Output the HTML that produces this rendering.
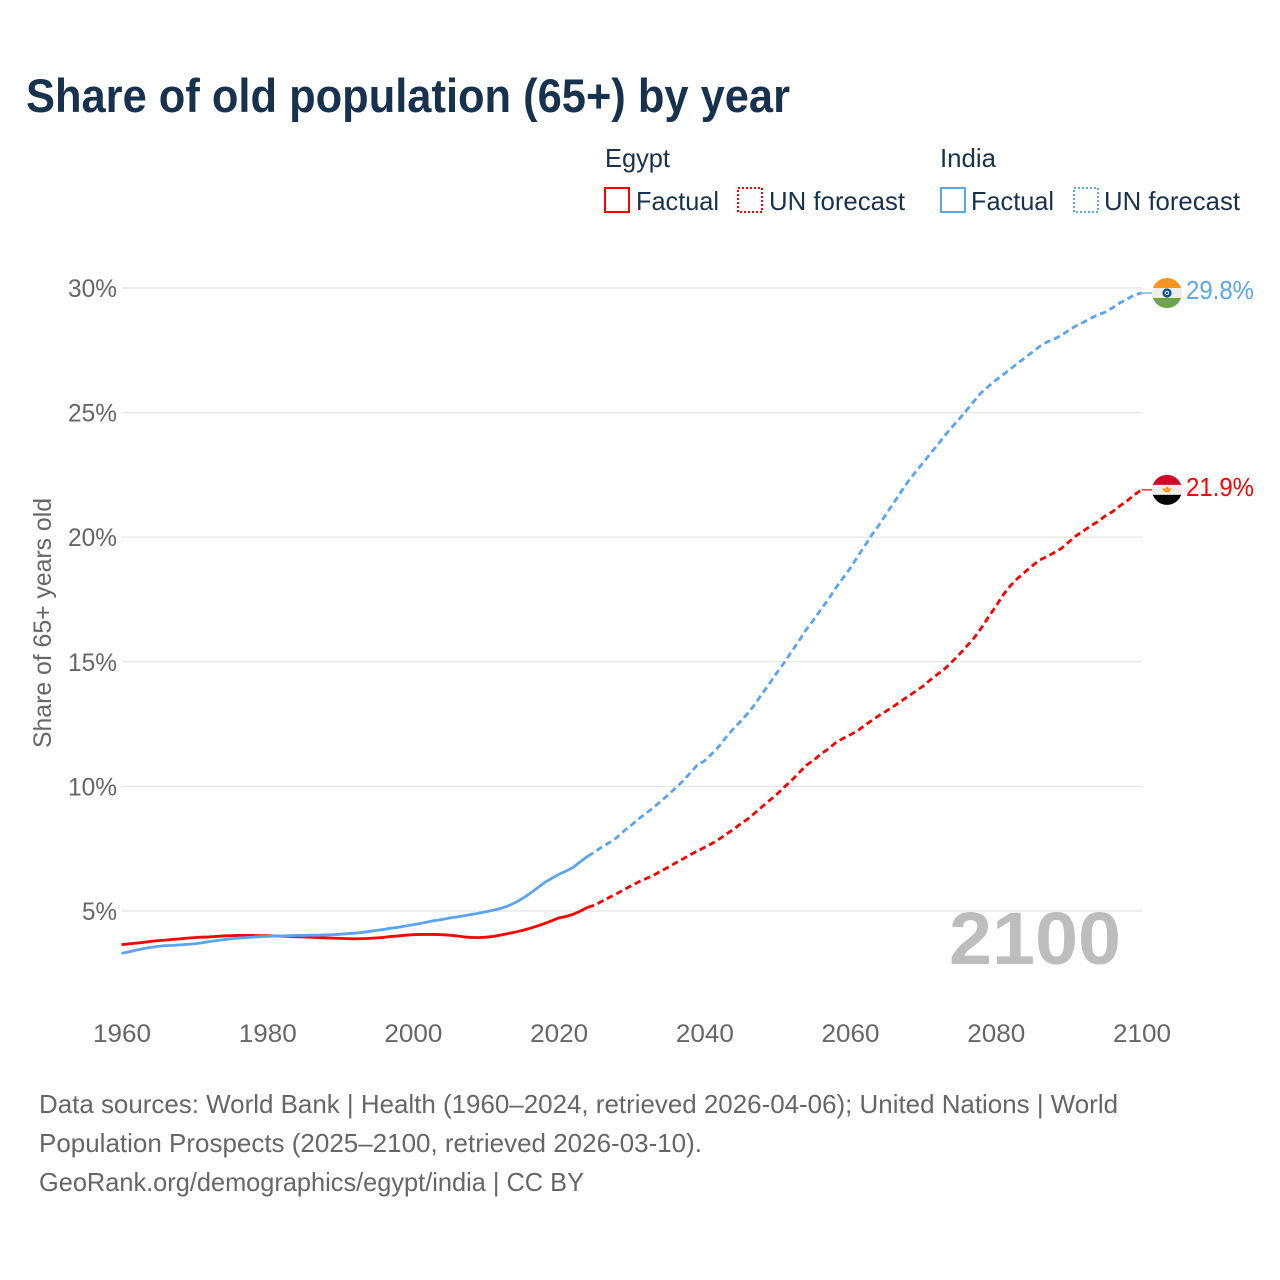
<!DOCTYPE html>
<html lang="en">
<head>
<meta charset="utf-8">
<title>Share of old population (65+) by year</title>
<style>
html,body{margin:0;padding:0;background:#fff;}
svg{display:block;font-family:"Liberation Sans",sans-serif;}
</style>
</head>
<body>
<svg id="chart" width="1280" height="1280" viewBox="0 0 1280 1280" xmlns="http://www.w3.org/2000/svg">
  <defs>
    <clipPath id="flag-clip"><circle cx="0" cy="0" r="15"></circle></clipPath>
  </defs>
  <text x="26" y="112" font-size="47" font-weight="700" fill="#17324f" textLength="764" lengthAdjust="spacingAndGlyphs">Share of old population (65+) by year</text>

  <g font-size="26" fill="#17324f">
    <text x="605" y="167" textLength="65" lengthAdjust="spacingAndGlyphs">Egypt</text>
    <text x="940" y="167" textLength="56" lengthAdjust="spacingAndGlyphs">India</text>
    <rect x="605" y="188" width="24" height="24" fill="none" stroke="#ff0000" stroke-width="2"></rect>
    <text x="636" y="210" textLength="83" lengthAdjust="spacingAndGlyphs">Factual</text>
    <rect x="738" y="188" width="24" height="24" fill="none" stroke="#ff0000" stroke-width="2" stroke-dasharray="2 2"></rect>
    <text x="769" y="210" textLength="136" lengthAdjust="spacingAndGlyphs">UN forecast</text>
    <rect x="941" y="188" width="24" height="24" fill="none" stroke="#5ba4ee" stroke-width="2"></rect>
    <text x="971" y="210" textLength="83" lengthAdjust="spacingAndGlyphs">Factual</text>
    <rect x="1074" y="188" width="24" height="24" fill="none" stroke="#5ba4ee" stroke-width="2" stroke-dasharray="2 2"></rect>
    <text x="1104" y="210" textLength="136" lengthAdjust="spacingAndGlyphs">UN forecast</text>
  </g>

  <text transform="translate(51,748) rotate(-90)" x="0" y="0" font-size="25" fill="#666666" textLength="250" lengthAdjust="spacingAndGlyphs">Share of 65+ years old</text>

  <g id="grid"></g>
  <g id="y-ticks"></g>
  <g id="x-ticks"></g>

  <text x="949" y="964" font-size="74" font-weight="700" fill="#bdbdbd" textLength="172" lengthAdjust="spacingAndGlyphs">2100</text>

  <g id="series"></g>
  <g id="flags"></g>

  <g font-size="26" fill="#666666">
    <text x="39" y="1113" textLength="1079" lengthAdjust="spacingAndGlyphs">Data sources: World Bank | Health (1960–2024, retrieved 2026-04-06); United Nations | World</text>
    <text x="39" y="1152" textLength="663" lengthAdjust="spacingAndGlyphs">Population Prospects (2025–2100, retrieved 2026-03-10).</text>
    <text x="39" y="1191" textLength="545" lengthAdjust="spacingAndGlyphs">GeoRank.org/demographics/egypt/india | CC BY</text>
  </g>
</svg>

<script>
// ---- Chart data ----
const yTickValues = [5, 10, 15, 20, 25, 30];
const xTickYears = [1960, 1980, 2000, 2020, 2040, 2060, 2080, 2100];
const factualStartYear = 1960;
const forecastStartYear = 2024;

const egyptFactual = [
  3.65,3.68,3.71,3.74,3.78,3.81,3.83,3.86,3.88,3.91,
  3.93,3.95,3.96,3.98,4.00,4.01,4.02,4.02,4.02,4.01,
  4.01,4.00,3.99,3.98,3.97,3.96,3.95,3.93,3.92,3.91,
  3.90,3.89,3.88,3.89,3.90,3.92,3.94,3.98,4.00,4.03,
  4.05,4.06,4.06,4.06,4.05,4.03,4.00,3.96,3.94,3.93,
  3.95,3.98,4.03,4.09,4.15,4.22,4.30,4.39,4.49,4.60,
  4.72,4.78,4.87,5.00,5.15
];
const egyptForecast = [
  5.15,5.24,5.40,5.55,5.70,5.86,
  6.02,6.17,6.30,6.43,6.60,6.75,6.92,7.08,7.25,7.40,
  7.55,7.70,7.88,8.08,8.28,8.50,8.70,8.95,9.20,9.45,
  9.70,9.98,10.25,10.55,10.85,11.05,11.30,11.50,11.75,11.92,
  12.07,12.22,12.45,12.65,12.85,13.03,13.22,13.42,13.62,13.82,
  14.02,14.27,14.50,14.72,15.00,15.30,15.62,15.95,16.35,16.80,
  17.22,17.68,18.05,18.35,18.60,18.85,19.08,19.22,19.38,19.55,
  19.80,20.05,20.25,20.45,20.62,20.85,21.02,21.25,21.45,21.70,
  21.90
];
const indiaFactual = [
  3.30,3.36,3.43,3.49,3.54,3.58,3.61,3.62,3.64,3.66,
  3.68,3.72,3.77,3.81,3.85,3.88,3.91,3.93,3.95,3.97,
  3.98,4.00,4.00,4.01,4.02,4.02,4.03,4.03,4.04,4.05,
  4.07,4.09,4.11,4.14,4.18,4.22,4.26,4.31,4.35,4.40,
  4.45,4.50,4.56,4.62,4.66,4.72,4.76,4.81,4.86,4.91,
  4.97,5.03,5.10,5.20,5.33,5.50,5.69,5.91,6.13,6.30,
  6.47,6.60,6.75,6.98,7.20
];
const indiaForecast = [
  7.20,7.38,7.58,7.75,7.95,8.22,
  8.45,8.70,8.92,9.15,9.40,9.65,9.92,10.20,10.52,10.85,
  11.02,11.30,11.60,11.98,12.32,12.62,12.95,13.32,13.75,14.15,
  14.58,14.98,15.42,15.85,16.30,16.68,17.10,17.50,17.95,18.35,
  18.75,19.20,19.65,20.10,20.50,20.95,21.38,21.82,22.25,22.62,
  22.98,23.35,23.70,24.08,24.42,24.75,25.10,25.45,25.80,26.05,
  26.30,26.52,26.75,26.98,27.20,27.42,27.65,27.83,27.95,28.10,
  28.30,28.48,28.62,28.78,28.92,29.03,29.20,29.40,29.55,29.72,
  29.80
];
const egyptColor = '#ff0000';
const indiaColor = '#5ba4ee';

// ---- Axis functions ----
const SVG_NS = 'http://www.w3.org/2000/svg';
function xScale(year) { return 121.5 + (year - 1960) * (1020 / 140); }
function yScale(value) { return 911 - (value - 5) * 24.92; }
function make(tag, attrs) {
  const el = document.createElementNS(SVG_NS, tag);
  for (const k in attrs) el.setAttribute(k, attrs[k]);
  return el;
}
function linePath(values, startYear) {
  return values.map(function (v, i) {
    return (i ? 'L' : 'M') + xScale(startYear + i).toFixed(2) + ' ' + yScale(v).toFixed(2);
  }).join(' ');
}

// ---- Grid and ticks ----
const grid = document.getElementById('grid');
const yTicks = document.getElementById('y-ticks');
const xTicks = document.getElementById('x-ticks');

yTickValues.forEach(function (v) {
  const g = make('line', { x1: 122, x2: 1142, y1: yScale(v), y2: yScale(v), stroke: '#e4e4e4', 'stroke-width': 1.2 });
  
  
  grid.appendChild(g);

  const t = make('text', { x: 117, y: yScale(v) + 9, 'font-size': 25, fill: '#666666', 'text-anchor': 'end', textLength: v < 10 ? 35 : 49, lengthAdjust: 'spacingAndGlyphs' });
  
  
  t.textContent = v + '%';
  yTicks.appendChild(t);
});

xTickYears.forEach(function (year) {
  const t = make('text', { x: xScale(year) + 0.5, y: 1042, 'font-size': 25, fill: '#666666', 'text-anchor': 'middle', textLength: 58, lengthAdjust: 'spacingAndGlyphs' });
  
  
  t.textContent = year;
  xTicks.appendChild(t);
});

// ---- Series ----
const series = document.getElementById('series');

function drawSeries(label, factual, forecast, color) {
  const solid = make('path', { d: linePath(factual, factualStartYear), fill: 'none', stroke: color, 'stroke-width': 2.8, 'stroke-linejoin': 'round' });
  
  
  series.appendChild(solid);

  const dashed = make('path', { d: linePath(forecast, forecastStartYear), fill: 'none', stroke: color, 'stroke-width': 2.8, 'stroke-dasharray': '6.5 4', 'stroke-linejoin': 'round' });
  
  
  series.appendChild(dashed);

  const last = forecast[forecast.length - 1];
  const connector = make('line', { x1: xScale(2100), x2: 1153, y1: yScale(last), y2: yScale(last), stroke: color, 'stroke-width': 1.2 });
  
  
  series.appendChild(connector);
}
drawSeries('egypt', egyptFactual, egyptForecast, egyptColor);
drawSeries('india', indiaFactual, indiaForecast, indiaColor);

// ---- End flags and value labels ----
const flags = document.getElementById('flags');

function bands(parent, colors) {
  colors.forEach(function (c, i) {
    const r = make('rect', { x: -15, y: -15 + i * 10, width: 30, height: 10.5, fill: c });
    parent.appendChild(r);
  });
}

function drawEnd(label, value, color, bandColors, emblem) {
  const y = yScale(value);
  const g = make('g', { transform: 'translate(1167,' + y.toFixed(2) + ')' });
  
  
  const clip = make('g', { 'clip-path': 'url(#flag-clip)' });
  bands(clip, bandColors);
  emblem(clip);
  g.appendChild(clip);
  flags.appendChild(g);

  const t = make('text', { x: 1186, y: y + 6, 'font-size': 26, fill: color, textLength: 68, lengthAdjust: 'spacingAndGlyphs' });
  
  
  t.textContent = value.toFixed(1) + '%';
  flags.appendChild(t);
}

drawEnd('egypt', egyptForecast[egyptForecast.length - 1], egyptColor, ['#d80027', '#eeeeee', '#000000'], function (p) {
  p.appendChild(make('path', { d: 'M-5 -1.5 L5 -1.5 L2 2.5 L-2 2.5 Z', fill: '#ff9811' }));
  p.appendChild(make('circle', { cx: 0, cy: -2, r: 1.2, fill: '#ff9811' }));
});
drawEnd('india', indiaForecast[indiaForecast.length - 1], indiaColor, ['#f7941d', '#eeeeee', '#6da544'], function (p) {
  p.appendChild(make('circle', { cx: 0, cy: 0, r: 4.6, fill: '#0b4ea2' }));
  p.appendChild(make('circle', { cx: 0, cy: 0, r: 2.2, fill: '#dfe8f5' }));
  p.appendChild(make('circle', { cx: 0, cy: 0, r: 1.1, fill: '#0b4ea2' }));
});
</script>
</body>
</html>
